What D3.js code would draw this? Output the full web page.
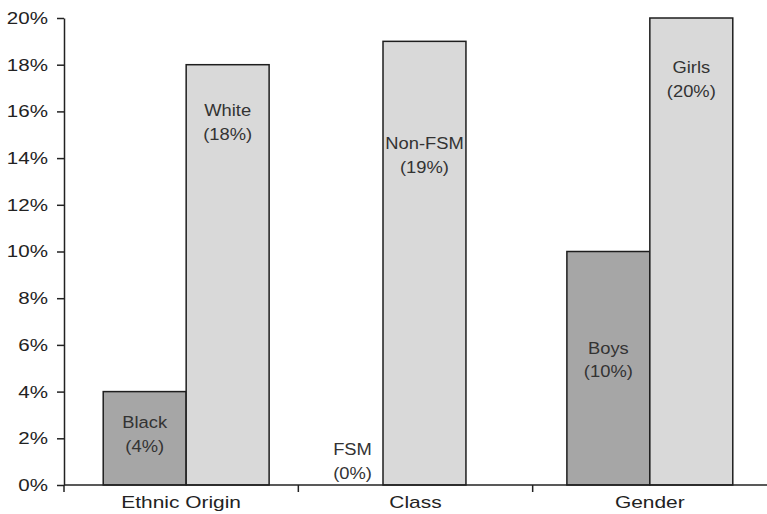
<!DOCTYPE html>
<html>
<head>
<meta charset="utf-8">
<script src="https://cdn.jsdelivr.net/npm/d3@7"></script>
<style>
  html, body { margin: 0; padding: 0; background: #fff; }
  svg { display: block; }
  text { font-family: "Liberation Sans", Arial, Helvetica, sans-serif; }
</style>
</head>
<body>
<svg id="chart" width="767" height="514"></svg>
<script>
// Group categories along the x axis
const groups = ["Ethnic Origin", "Class", "Gender"];
// First (darker) bar in each group
const firstNames = ["Black", "FSM", "Boys"];
const firstValues = [4, 0, 10];
// Second (lighter) bar in each group
const secondNames = ["White", "Non-FSM", "Girls"];
const secondValues = [18, 19, 20];
// Y axis ticks (percent)
const yTicks = [0, 2, 4, 6, 8, 10, 12, 14, 16, 18, 20];

// ---- layout ----
const plot = { left: 64, right: 767, top: 18, bottom: 485 };
const colors = { first: "#a6a6a6", second: "#d9d9d9", stroke: "#1e1e1e" };
// text is drawn slightly widened horizontally
const stretch = { axis: 1.21, category: 1.23, bar: 1.08 };
// horizontal nudge of each bar pair within its group band
const groupShift = { "Ethnic Origin": 5, "Class": -32.5, "Gender": 0 };
// vertical placement of each bar's label block, measured from the bar top
const labelDrop = { "Black": 36, "White": 51, "FSM": -30, "Non-FSM": 108, "Boys": 102, "Girls": 55 };
const labelDx = { "FSM": 11 };

const svg = d3.select("#chart");

const x = d3.scaleBand().domain(groups).range([plot.left, plot.right]).padding(0);
const y = d3.scaleLinear().domain([0, 20]).range([plot.bottom, plot.top]);

const barW = x.bandwidth() * 0.354;
const inner = d3.scaleBand().domain(["first", "second"]).range([-barW, barW]).padding(0);

const bars = [];
groups.forEach((g, i) => {
  bars.push({ group: g, slot: "first", name: firstNames[i], value: firstValues[i] });
  bars.push({ group: g, slot: "second", name: secondNames[i], value: secondValues[i] });
});
const barX = d => x(d.group) + x.bandwidth() / 2 + groupShift[d.group] + inner(d.slot);

// bars
svg.append("g").selectAll("rect")
  .data(bars.filter(d => d.value > 0))
  .join("rect")
  .attr("x", barX)
  .attr("y", d => y(d.value))
  .attr("width", inner.bandwidth())
  .attr("height", d => y(0) - y(d.value))
  .attr("fill", d => colors[d.slot])
  .attr("stroke", colors.stroke)
  .attr("stroke-width", 1.5);

// bar labels: name and value in parentheses
const lbl = svg.append("g").selectAll("text")
  .data(bars)
  .join("text")
  .attr("text-anchor", "middle")
  .attr("fill", "#333")
  .attr("font-size", 17)
  .attr("transform", d => {
    const cx = barX(d) + inner.bandwidth() / 2 + (labelDx[d.name] || 0);
    const cy = y(d.value) + labelDrop[d.name];
    return `translate(${cx},${cy}) scale(${stretch.bar},1)`;
  });
lbl.append("tspan").attr("x", 0).text(d => d.name);
lbl.append("tspan").attr("x", 0).attr("dy", 24).text(d => `(${d.value}%)`);

// y axis
const yAxis = svg.append("g")
  .attr("transform", `translate(${plot.left},0)`)
  .call(d3.axisLeft(y).tickValues(yTicks).tickFormat(d => d + "%").tickSize(7).tickSizeOuter(0));
yAxis.select(".domain").attr("stroke", "#222").attr("stroke-width", 1.5);
yAxis.selectAll(".tick line").attr("stroke", "#222").attr("stroke-width", 1.5);
yAxis.selectAll(".tick text")
  .attr("font-size", 17).attr("fill", "#222")
  .attr("font-family", "'Liberation Sans', Arial, sans-serif")
  .attr("x", -16 / stretch.axis)
  .attr("transform", `scale(${stretch.axis},1)`);

// x axis: baseline with ticks at group boundaries, labels centred in each band
const xAxis = svg.append("g");
xAxis.append("line")
  .attr("x1", plot.left).attr("x2", plot.right)
  .attr("y1", y(0)).attr("y2", y(0))
  .attr("stroke", "#222").attr("stroke-width", 1.5);
xAxis.selectAll("line.tick")
  .data(groups)
  .join("line")
  .attr("class", "tick")
  .attr("x1", d => x(d)).attr("x2", d => x(d))
  .attr("y1", y(0)).attr("y2", y(0) + 7)
  .attr("stroke", "#222").attr("stroke-width", 1.5);
xAxis.selectAll("text")
  .data(groups)
  .join("text")
  .attr("text-anchor", "middle")
  .attr("font-size", 17)
  .attr("fill", "#222")
  .attr("transform", d => `translate(${x(d) + x.bandwidth() / 2},${y(0) + 23}) scale(${stretch.category},1)`)
  .text(d => d);
</script>
</body>
</html>
